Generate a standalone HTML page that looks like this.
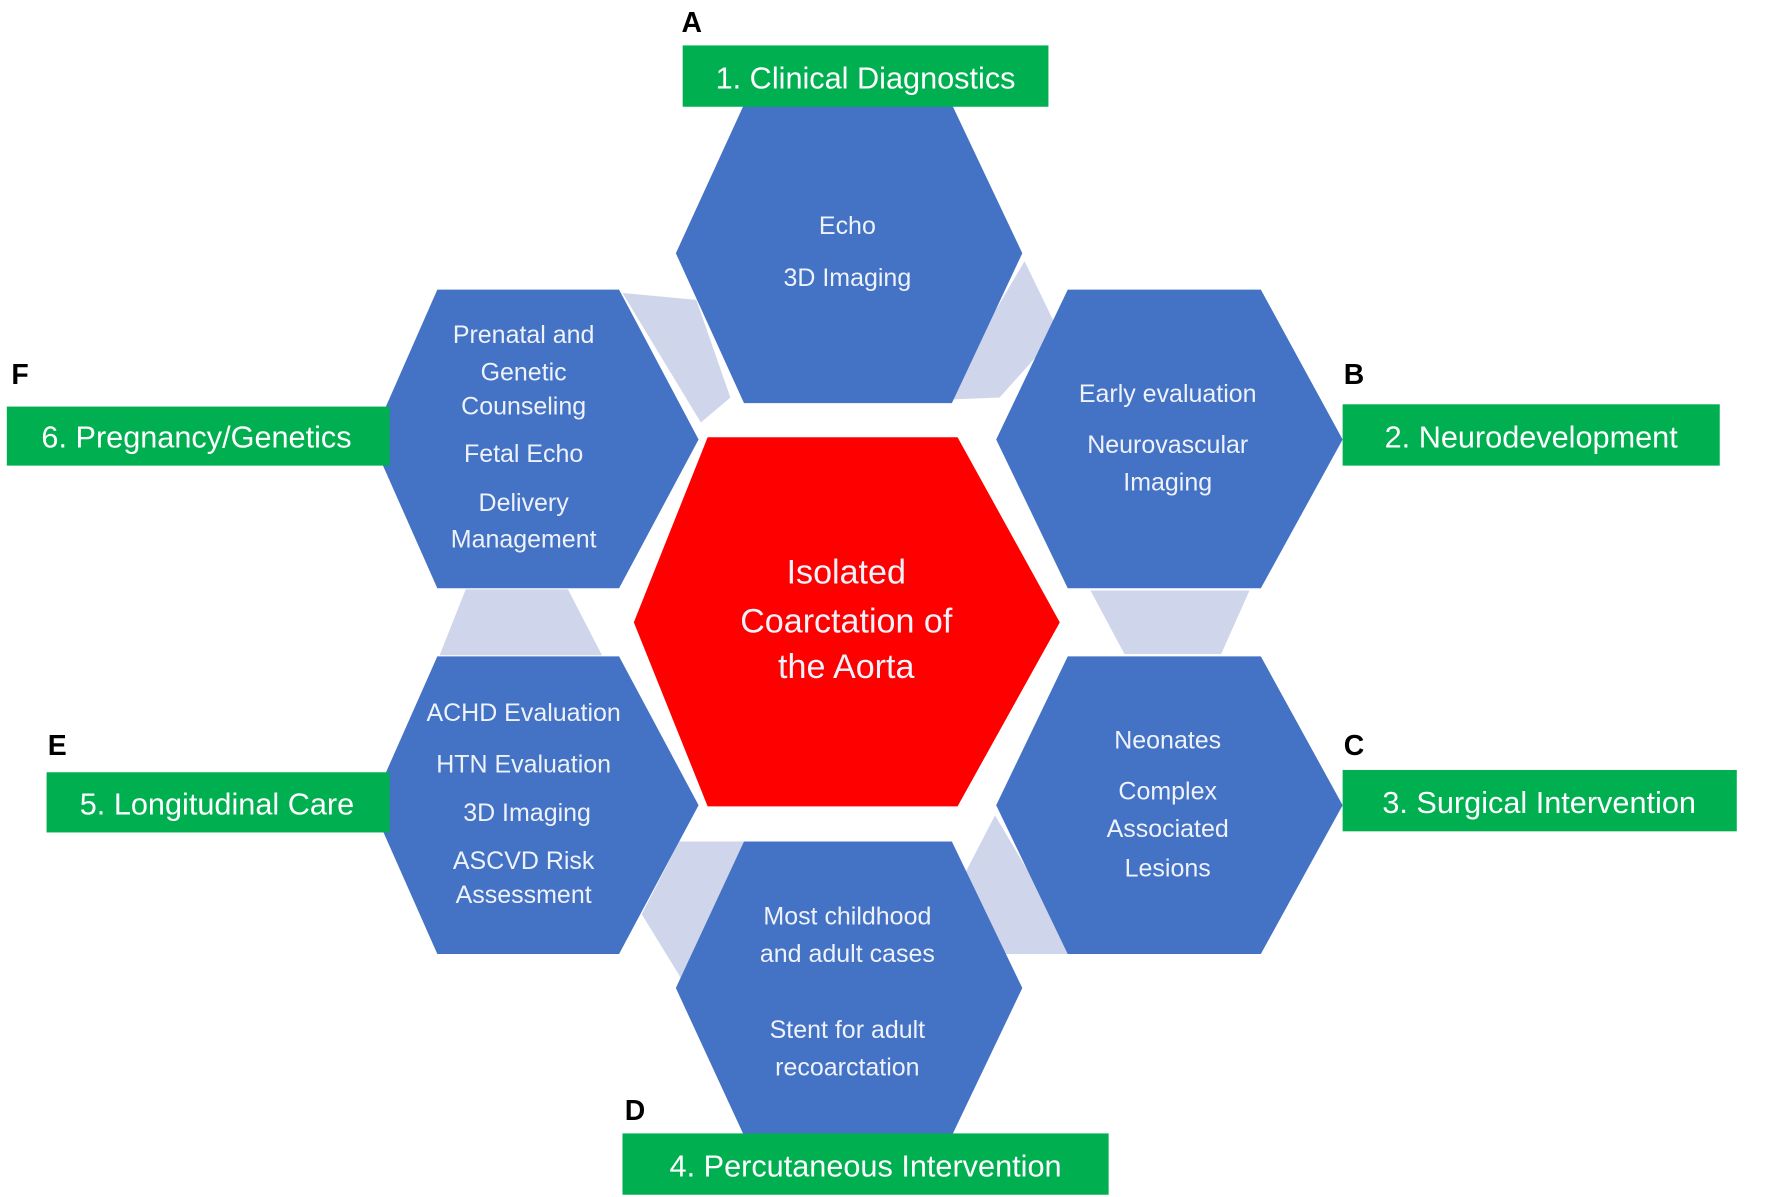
<!DOCTYPE html>
<html><head><meta charset="utf-8"><style>
html,body{margin:0;padding:0;background:#fff;}
svg{display:block;}
.h{fill:#4472C4;}
.c{fill:#CFD5EA;}
.t{font-family:"Liberation Sans",sans-serif;fill:#EEF2FA;font-size:22px;text-anchor:middle;}
.g{fill:#00B050;}
.l{font-family:"Liberation Sans",sans-serif;fill:#fff;font-size:27px;}
.L{font-family:"Liberation Sans",sans-serif;fill:#000;font-size:25px;font-weight:bold;}
</style></head><body>
<svg width="1772" height="1197" viewBox="0 0 1560 1054" preserveAspectRatio="none">
<!-- connectors -->
<polygon class="c" points="548,258 613,264 643,350 617,372"/>
<polygon class="c" points="902,230 932,292 880,350 830,352"/>
<polygon class="c" points="960,520 1100,520 1075,576 990,576"/>
<polygon class="c" points="876,718 948,840 882,840 848,772"/>
<polygon class="c" points="598,741 665,741 600,862 565,805"/>
<polygon class="c" points="410,519 500,519 530,577 387,577"/>
<!-- hexagons -->
<polygon class="h" points="655,92 838,92 900,223 838,355 655,355 595,223"/>
<polygon class="h" points="940,255 1110,255 1182,387 1110,518 940,518 877,387"/>
<polygon class="h" points="940,578 1110,578 1182,709 1110,840 940,840 877,709"/>
<polygon class="h" points="655,741 838,741 900,870 838,1000 655,1000 595,870"/>
<polygon class="h" points="385,578 545,578 615,709 545,840 385,840 327,709"/>
<polygon class="h" points="385,255 545,255 615,387 545,518 385,518 327,387"/>
<polygon fill="#FF0000" points="623,385 843,385 933,548 843,710 623,710 558,548"/>
<!-- hex text -->
<text class="t" x="746" y="206">Echo</text>
<text class="t" x="746" y="252">3D Imaging</text>
<text class="t" x="1028" y="354">Early evaluation</text>
<text class="t" x="1028" y="399">Neurovascular</text>
<text class="t" x="1028" y="432">Imaging</text>
<text class="t" x="1028" y="659">Neonates</text>
<text class="t" x="1028" y="704">Complex</text>
<text class="t" x="1028" y="737">Associated</text>
<text class="t" x="1028" y="772">Lesions</text>
<text class="t" x="746" y="814">Most childhood</text>
<text class="t" x="746" y="847">and adult cases</text>
<text class="t" x="746" y="914">Stent for adult</text>
<text class="t" x="746" y="947">recoarctation</text>
<text class="t" x="461" y="635">ACHD Evaluation</text>
<text class="t" x="461" y="680">HTN Evaluation</text>
<text class="t" x="464" y="723">3D Imaging</text>
<text class="t" x="461" y="765">ASCVD Risk</text>
<text class="t" x="461" y="795">Assessment</text>
<text class="t" x="461" y="302">Prenatal and</text>
<text class="t" x="461" y="335">Genetic</text>
<text class="t" x="461" y="365">Counseling</text>
<text class="t" x="461" y="407">Fetal Echo</text>
<text class="t" x="461" y="450">Delivery</text>
<text class="t" x="461" y="482">Management</text>
<text class="t" x="745" y="514" style="font-size:30px">Isolated</text>
<text class="t" x="745" y="557" style="font-size:30px">Coarctation of</text>
<text class="t" x="745" y="597" style="font-size:30px">the Aorta</text>
<!-- labels -->
<rect class="g" x="601" y="40" width="322" height="54"/>
<text class="l" x="762" y="78" text-anchor="middle">1. Clinical Diagnostics</text>
<rect class="g" x="1182" y="356" width="332" height="54"/>
<text class="l" x="1348" y="394" text-anchor="middle">2. Neurodevelopment</text>
<rect class="g" x="1182" y="678" width="347" height="54"/>
<text class="l" x="1355" y="716" text-anchor="middle">3. Surgical Intervention</text>
<rect class="g" x="548" y="998" width="428" height="54"/>
<text class="l" x="762" y="1036" text-anchor="middle">4. Percutaneous Intervention</text>
<rect class="g" x="41" y="680" width="302" height="53"/>
<text class="l" x="191" y="717" text-anchor="middle">5. Longitudinal Care</text>
<rect class="g" x="6" y="358" width="337" height="52"/>
<text class="l" x="173" y="394" text-anchor="middle">6. Pregnancy/Genetics</text>
<text class="L" x="600" y="28">A</text>
<text class="L" x="1183" y="338">B</text>
<text class="L" x="1183" y="665">C</text>
<text class="L" x="550" y="986">D</text>
<text class="L" x="42" y="665">E</text>
<text class="L" x="10" y="338">F</text>
</svg>
</body></html>
